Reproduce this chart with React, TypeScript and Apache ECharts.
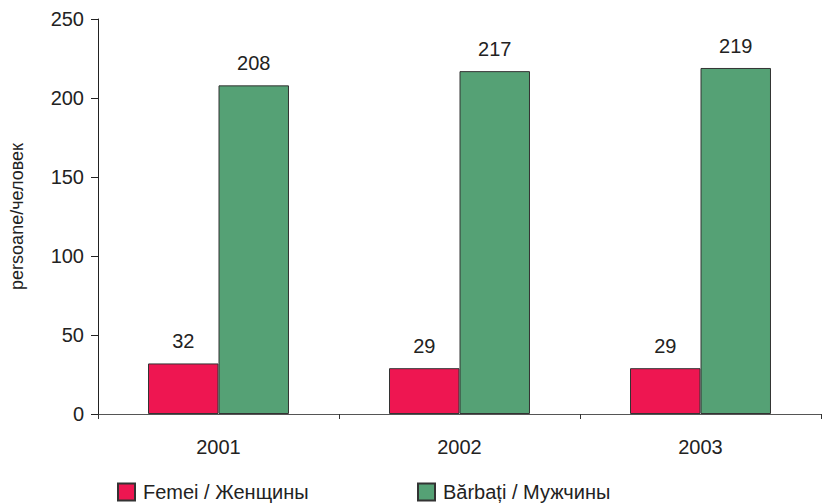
import React, { useEffect, useRef } from "react";
import * as echarts from "echarts";

const years = ["2001", "2002", "2003"];
const women = [32, 29, 29];
const men = [208, 217, 219];
const seriesNames = ["Femei / Женщины", "Bărbați / Мужчины"];
const yAxisName = "persoane/человек";

export default function App() {
  const ref = useRef<HTMLDivElement>(null);
  useEffect(() => {
    document.body.style.margin = "0";
    const chart = echarts.init(ref.current!, null, { renderer: "svg" });
    const font = "Liberation Sans, Arial, sans-serif";
    const label = {
      show: true,
      position: "top" as const,
      distance: 12,
      fontSize: 20,
      color: "#222",
      fontFamily: font,
    };
    const legendBase = {
      top: 482,
      padding: 0,
      icon: "rect",
      itemWidth: 17,
      itemHeight: 17,
      itemGap: 8,
      textStyle: {
        fontSize: 20,
        lineHeight: 20,
        color: "#222",
        fontFamily: font,
        padding: [0, 0, 0, 3],
      },
    };
    chart.setOption({
      animation: false,
      backgroundColor: "#fff",
      textStyle: { fontFamily: font },
      grid: { left: 92, top: 19, right: 3, height: 395 },
      legend: [
        { ...legendBase, data: [seriesNames[0]], left: 117 },
        { ...legendBase, data: [seriesNames[1]], left: 417 },
      ],
      xAxis: {
        type: "category",
        data: years,
        axisLine: { lineStyle: { color: "#555", width: 1 } },
        axisTick: { show: true, length: 5, lineStyle: { color: "#333" } },
        axisLabel: { fontSize: 20, color: "#222", margin: 23, fontFamily: font },
      },
      yAxis: {
        type: "value",
        min: 0,
        max: 250,
        interval: 50,
        name: yAxisName,
        nameLocation: "middle",
        nameRotate: 90,
        nameGap: 72,
        nameTextStyle: { fontSize: 18, color: "#222", fontFamily: font },
        axisLine: { show: true, lineStyle: { color: "#222", width: 1 } },
        axisTick: { show: true, length: 7, lineStyle: { color: "#222" } },
        axisLabel: { fontSize: 20, color: "#222", margin: 14, fontFamily: font },
        splitLine: { show: false },
      },
      series: [
        {
          name: seriesNames[0],
          type: "bar",
          data: women,
          barGap: "0%",
          barCategoryGap: "41.5%",
          itemStyle: { color: "#EE1651", borderColor: "#333", borderWidth: 1 },
          label,
        },
        {
          name: seriesNames[1],
          type: "bar",
          data: men,
          itemStyle: { color: "#55A175", borderColor: "#333", borderWidth: 1 },
          label,
        },
      ],
    });
    return () => chart.dispose();
  }, []);
  return <div ref={ref} style={{ width: 824, height: 504 }} />;
}
